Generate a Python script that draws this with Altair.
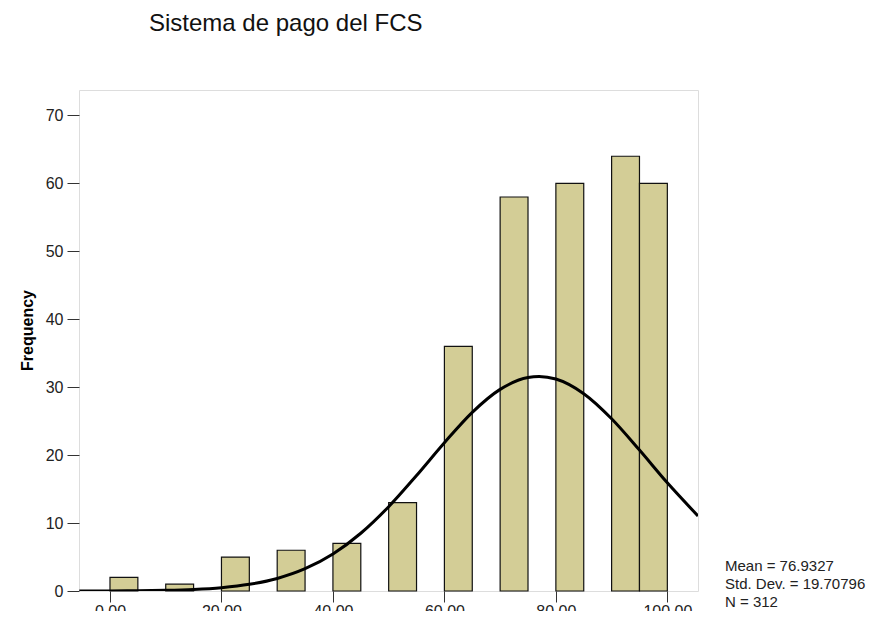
import altair as alt
import pandas as pd

# Histogram bins (lower/upper edge) and frequencies
bin_start = [0, 10, 20, 30, 40, 50, 60, 70, 80, 90, 95]
bin_end = [5, 15, 25, 35, 45, 55, 65, 75, 85, 95, 100]
counts = [2, 1, 5, 6, 7, 13, 36, 58, 60, 64, 60]

# Normal curve
curve_x = [-5.5, 0, 5, 10, 15, 20, 25, 30, 35, 40, 45, 50, 55, 60, 65, 70, 75, 77, 80, 85, 90, 95, 100, 105.5]
curve_y = [0.006, 0.015, 0.04, 0.10, 0.23, 0.49, 0.98, 1.85, 3.28, 5.45, 8.50, 12.41, 17.0, 21.83,
           26.30, 29.68, 31.43, 31.58, 31.20, 29.04, 25.35, 20.74, 15.92, 11.05]

x_ticks = [0, 20, 40, 60, 80, 100]
y_ticks = [0, 10, 20, 30, 40, 50, 60, 70]

title_text = "Sistema de pago del FCS"
stats_lines = ["Mean = 76.9327", "Std. Dev. = 19.70796", "N = 312"]

FONT = "Liberation Sans"
X_DOMAIN = [-5.56, 105.5]
Y_DOMAIN = [0, 73.75]
W, H = 619, 501

bars_df = pd.DataFrame({"start": bin_start, "end": bin_end, "count": counts})
curve_df = pd.DataFrame({"x": curve_x, "y": curve_y})

xscale = alt.Scale(domain=X_DOMAIN, nice=False, zero=False)
yscale = alt.Scale(domain=Y_DOMAIN, nice=False, zero=False)

bars = alt.Chart(bars_df).mark_bar(
    fill="#d3cd96", stroke="#111111", strokeWidth=1.2
).encode(
    x=alt.X("start:Q", scale=xscale, axis=alt.Axis(
        values=x_ticks, format=".2f", title=None, grid=False, domain=False,
        tickSize=11, tickColor="#333333", labelFontSize=16, labelColor="#222222",
        labelFont=FONT, labelPadding=1)),
    x2="end:Q",
    y=alt.Y("count:Q", scale=yscale, axis=alt.Axis(
        values=y_ticks, title="Frequency", grid=False, domain=False,
        tickSize=12, tickColor="#333333", labelFontSize=16, labelColor="#222222",
        labelFont=FONT, labelPadding=4, titleFont=FONT, titleFontSize=16,
        titleFontWeight="bold", titleColor="#000000", titleX=-44, titleY=240,
        titleAngle=270)),
    y2=alt.datum(0),
)

curve = alt.Chart(curve_df).mark_line(
    color="#000000", strokeWidth=3, interpolate="monotone", clip=True
).encode(
    x=alt.X("x:Q", scale=xscale),
    y=alt.Y("y:Q", scale=yscale),
)

title = alt.Chart(pd.DataFrame({"t": [title_text]})).mark_text(
    align="left", baseline="alphabetic", font=FONT, fontSize=24, color="#111111"
).encode(text="t:N", x=alt.value(70), y=alt.value(-59))

stats = alt.Chart(pd.DataFrame({"t": ["\n".join(stats_lines)]})).mark_text(
    align="left", baseline="top", font=FONT, fontSize=15, color="#222222",
    lineBreak="\n", lineHeight=18
).encode(text="t:N", x=alt.value(646), y=alt.value(469))

chart = alt.layer(bars, curve, title, stats).properties(
    width=W, height=H,
    autosize=alt.AutoSizeParams(type="none"),
    padding={"left": 71, "top": 82, "right": 175, "bottom": 20},
).configure_view(
    fill="#f0f0f0", stroke="#555555", strokeWidth=1.5
).configure(background="#ffffff")

chart.save("out.html", embed_options={"renderer": "svg", "actions": False})
